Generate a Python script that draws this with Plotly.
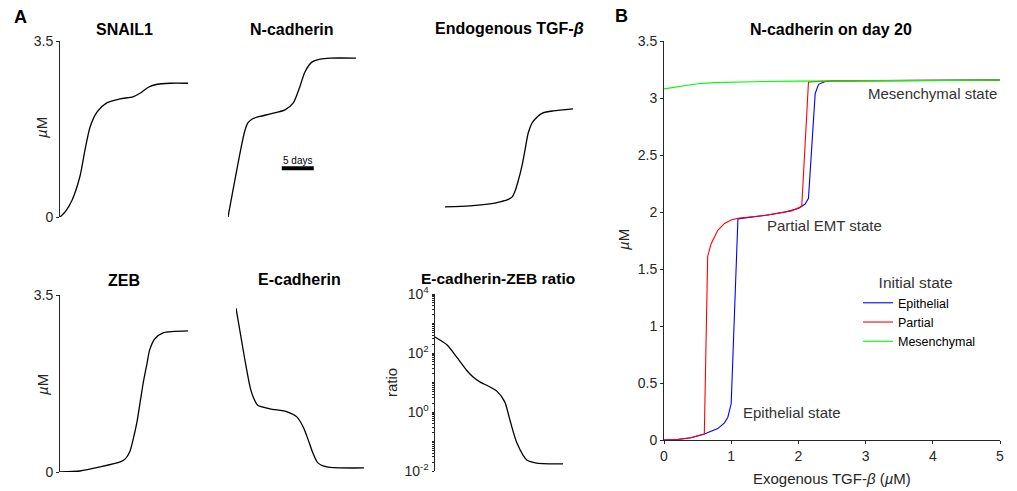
import plotly.graph_objects as go

W, H = 1017, 491

# ---------------- Panel A data (time courses, days 0-20) ----------------
snail_days = [0, 0.8, 1.9, 3.1, 3.9, 4.7, 5.8, 7.3, 9.4, 11.4, 12.5, 13.8, 15.2, 17.2, 20]
snail_vals = [0, 0.1, 0.34, 0.8, 1.33, 1.79, 2.09, 2.27, 2.35, 2.39, 2.46, 2.58, 2.64, 2.66, 2.66]

ncad_days = [0, 2.0, 2.6, 3.1, 3.8, 5.0, 6.6, 8.9, 10.2, 11.2, 12.0, 13.1, 14.4, 16.0, 20]
ncad_vals = [0, 1.35, 1.7, 1.87, 1.95, 2.0, 2.05, 2.13, 2.27, 2.58, 2.88, 3.08, 3.14, 3.16, 3.16]

tgf_days = [0, 3.9, 7.0, 8.6, 9.7, 10.5, 10.9, 11.4, 12.0, 12.5, 13.0, 13.6, 14.4, 15.3, 16.9, 20]
tgf_vals = [0.2, 0.22, 0.26, 0.3, 0.34, 0.4, 0.5, 0.7, 1.0, 1.33, 1.67, 1.87, 1.99, 2.07, 2.11, 2.15]

zeb_days = [0, 3.1, 6.25, 9.4, 10.2, 10.9, 11.4, 12.0, 12.5, 13.0, 13.6, 14.0, 14.8, 16.1, 20]
zeb_vals = [0, 0.02, 0.1, 0.2, 0.26, 0.4, 0.63, 0.97, 1.36, 1.76, 2.15, 2.41, 2.63, 2.75, 2.79]

ecad_days = [0, 1.4, 2.2, 2.7, 3.4, 5.3, 8.0, 9.5, 10.5, 11.3, 12.0, 12.8, 14.2, 20]
ecad_vals = [3.24, 2.21, 1.68, 1.48, 1.32, 1.25, 1.19, 1.09, 0.89, 0.63, 0.38, 0.18, 0.1, 0.08]

ratio_days = [0, 1.9, 3.4, 5.0, 6.0, 7.0, 8.3, 9.7, 10.9, 11.7, 12.8, 14.4, 15.9, 20]
ratio_vals = [346, 186, 72, 25, 15, 10.5, 7.6, 5.0, 2.2, 0.54, 0.089, 0.023, 0.0186, 0.0174]

# ---------------- Panel B data (N-cadherin on day 20) ----------------
epi_x = [0, 0.2, 0.4, 0.6, 0.8, 0.9, 0.95, 1.0, 1.1, 1.3, 1.5, 1.8, 2.0, 2.1, 2.15, 2.25, 2.3, 2.4, 2.5, 3, 4, 5]
epi_y = [0, 0.005, 0.02, 0.053, 0.1, 0.15, 0.2, 0.32, 1.94, 1.955, 1.97, 2.0, 2.03, 2.07, 2.12, 3.04, 3.12, 3.145, 3.15, 3.152, 3.155, 3.157]

par_x = [0, 0.2, 0.4, 0.6, 0.65, 0.7, 0.8, 0.9, 1.0, 1.1, 1.5, 1.9, 2.05, 2.15, 2.5, 3, 4, 5]
par_y = [0, 0.005, 0.02, 0.053, 1.61, 1.72, 1.84, 1.9, 1.93, 1.945, 1.97, 2.01, 2.05, 3.14, 3.15, 3.152, 3.155, 3.157]

mes_x = [0, 0.25, 0.5, 0.75, 1.0, 1.5, 2.0, 3.0, 4.0, 5.0]
mes_y = [3.08, 3.105, 3.125, 3.135, 3.14, 3.145, 3.148, 3.152, 3.155, 3.157]

b_xticks = [0, 1, 2, 3, 4, 5]
b_yticks = [0, 0.5, 1, 1.5, 2, 2.5, 3, 3.5]
ratio_exponents = [-2, 0, 2, 4]
ratio_ticks = [k * 10.0 ** e for e in range(-2, 4) for k in range(1, 10)] + [1e4]

FONT = "Liberation Sans, Arial, Helvetica, sans-serif"
AX = "#262626"


def xd(a, b):
    return [a / W, b / W]


def yd(top, bottom):
    return [1 - bottom / H, 1 - top / H]


def ratio_label(v):
    for e in ratio_exponents:
        if abs(v - 10.0 ** e) < 1e-9 * max(1.0, 10.0 ** e):
            return f"10<sup>{e}</sup>"
    return ""


fig = go.Figure()

panels = [
    (snail_days, snail_vals, "x", "y"),
    (ncad_days, ncad_vals, "x2", "y2"),
    (tgf_days, tgf_vals, "x3", "y3"),
    (zeb_days, zeb_vals, "x4", "y4"),
    (ecad_days, ecad_vals, "x5", "y5"),
    (ratio_days, ratio_vals, "x6", "y6"),
]
for xs, ys, xa, ya in panels:
    fig.add_trace(go.Scatter(x=xs, y=ys, xaxis=xa, yaxis=ya, mode="lines",
                             line=dict(color="black", width=1.3, shape="spline", smoothing=0.7),
                             showlegend=False, hoverinfo="skip"))

fig.add_trace(go.Scatter(x=epi_x, y=epi_y, xaxis="x7", yaxis="y7", mode="lines",
                         name="Epithelial", line=dict(color="#0000FF", width=1.1)))
fig.add_trace(go.Scatter(x=par_x, y=par_y, xaxis="x7", yaxis="y7", mode="lines",
                         name="Partial", line=dict(color="#FF0000", width=1.1)))
fig.add_trace(go.Scatter(x=mes_x, y=mes_y, xaxis="x7", yaxis="y7", mode="lines",
                         name="Mesenchymal", line=dict(color="#00FF00", width=1.1)))

hidden = dict(visible=False, fixedrange=True, automargin=False)
tickfont = dict(family=FONT, size=14, color=AX)
mu_axis = dict(range=[0, 3.5], tickvals=[0, 3.5], ticktext=["0", "3.5"], showline=True,
               linecolor=AX, linewidth=1, ticks="outside", ticklen=3, tickcolor=AX,
               showgrid=False, zeroline=False, tickfont=tickfont, automargin=False)

layout = dict(
    width=W, height=H, margin=dict(l=0, r=0, t=0, b=0, autoexpand=False),
    paper_bgcolor="white", plot_bgcolor="white",
    font=dict(family=FONT, color=AX),
    xaxis=dict(domain=xd(60, 188), range=[0, 20], **hidden),
    yaxis=dict(domain=yd(41, 217), **mu_axis),
    xaxis2=dict(domain=xd(228, 356), range=[0, 20], **hidden),
    yaxis2=dict(domain=yd(41, 217), range=[0, 3.5], **hidden),
    xaxis3=dict(domain=xd(445, 573), range=[0, 20], **hidden),
    yaxis3=dict(domain=yd(41, 217), range=[0, 3.5], **hidden),
    xaxis4=dict(domain=xd(60, 188), range=[0, 20], **hidden),
    yaxis4=dict(domain=yd(295, 472), **mu_axis),
    xaxis5=dict(domain=xd(236, 364), range=[0, 20], **hidden),
    yaxis5=dict(domain=yd(295, 472), range=[0, 3.5], **hidden),
    xaxis6=dict(domain=xd(435, 563), range=[0, 20], **hidden),
    yaxis6=dict(domain=yd(294, 471), type="log", range=[-2, 4],
                tickvals=ratio_ticks, ticktext=[ratio_label(v) for v in ratio_ticks],
                showline=True, linecolor=AX, linewidth=1, ticks="outside", ticklen=2.5,
                tickcolor=AX, tickwidth=1, showgrid=False, zeroline=False, tickfont=tickfont,
                automargin=False),
    xaxis7=dict(domain=xd(664, 1000), range=[0, 5], tickvals=b_xticks, showline=True,
                linecolor=AX, linewidth=1, ticks="outside", ticklen=3, tickcolor=AX,
                showgrid=False, zeroline=False, tickfont=tickfont, anchor="y7",
                automargin=False),
    yaxis7=dict(domain=yd(41, 440), range=[0, 3.5], tickvals=b_yticks,
                ticktext=[f"{v:g}" for v in b_yticks], showline=True, linecolor=AX,
                linewidth=1, ticks="outside", ticklen=3, tickcolor=AX, showgrid=False,
                zeroline=False, tickfont=tickfont, anchor="x7", automargin=False),
    legend=dict(x=858 / W, y=1 - 268 / H, xanchor="left", yanchor="top",
                bgcolor="rgba(0,0,0,0)", font=dict(family=FONT, size=12.5, color="black"),
                title=dict(text="\u2002\u2002\u2009Initial state",
                           font=dict(family=FONT, size=15.5, color="#333333")),
                tracegroupgap=0),
)
for i in range(1, 7):
    s = "" if i == 1 else str(i)
    layout[f"xaxis{s}"]["anchor"] = f"y{s}"
    layout[f"yaxis{s}"]["anchor"] = f"x{s}"
fig.update_layout(**layout)

ann = []


def txt(text, x, y, size, bold=False, color="black", angle=0, xref="paper", yref="paper"):
    if xref == "paper":
        x = x / W
    if yref == "paper":
        y = 1 - y / H
    ann.append(dict(text=f"<b>{text}</b>" if bold else text, x=x, y=y, xref=xref, yref=yref,
                    showarrow=False, textangle=angle, xanchor="center", yanchor="middle",
                    font=dict(family=FONT, size=size, color=color)))


txt("A", 20, 17, 18, bold=True)
txt("B", 621, 16, 18, bold=True)
txt("SNAIL1", 124, 30, 16, bold=True)
txt("N-cadherin", 292, 30, 16, bold=True)
txt("Endogenous TGF-<i>β</i>", 509, 28, 16, bold=True)
txt("ZEB", 124, 280, 16, bold=True)
txt("E-cadherin", 299, 279, 16, bold=True)
txt("E-cadherin-ZEB ratio", 498, 278, 15.5, bold=True)
txt("N-cadherin on day 20", 831, 30, 16, bold=True)
txt("<i>µ</i>M", 42, 128, 15, color=AX, angle=-90)
txt("<i>µ</i>M", 42, 385, 15, color=AX, angle=-90)
txt("ratio", 391, 383, 15, color=AX, angle=-90)
txt("<i>µ</i>M", 623, 240, 15, color=AX, angle=-90)
txt("Exogenous TGF-<i>β</i> (<i>µ</i>M)", 832, 478, 15, color=AX)
txt("Mesenchymal state", 3.99, 3.04, 15, color="#333333", xref="x7", yref="y7")
txt("Partial EMT state", 2.39, 1.886, 15, color="#333333", xref="x7", yref="y7")
txt("Epithelial state", 1.9, 0.237, 15, color="#333333", xref="x7", yref="y7")
txt("5 days", 10.9, 1.13, 10, color="black", xref="x2", yref="y2")
fig.update_layout(annotations=ann)

# 5-day scale bar drawn in N-cadherin panel data coordinates
fig.add_shape(type="line", xref="x2", yref="y2", x0=8.4, x1=13.4, y0=0.97, y1=0.97,
              line=dict(color="black", width=4))

fig.write_html("out.html")
